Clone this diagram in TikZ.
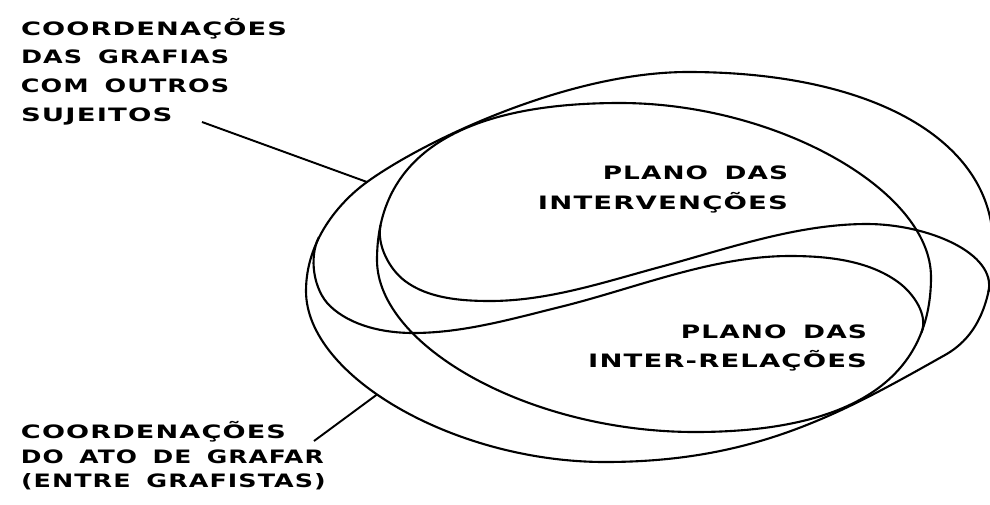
\documentclass[tikz,border=0pt]{standalone}
\usepackage{graphicx}
\usepackage{fontspec}
\newfontfamily\lblfont{DejaVu Sans}[FakeStretch=1.45, LetterSpace=6, WordSpace=1.6]
% set a line of caption text to a given width, keeping its height
\newcommand{\fitline}[2]{\resizebox{#1}{\height}{#2}}
\begin{document}
\begin{tikzpicture}[x=0.02cm, y=-0.02cm,
  outline/.style={draw=black, line width=1.2pt, line join=round},
  leader/.style={draw=black, line width=1.1pt},
  caption/.style={inner sep=0pt, outer sep=0pt, text=black,
    font=\lblfont\bfseries\fontsize{10.5}{12}\selectfont}]
\useasboundingbox (0,0) rectangle (990,504);

\begin{scope}
  \clip (0,0) rectangle (990,504);
  % outer ring
  \draw[outline] (306,291)
    .. controls (306,241) and (338.7,202.5) .. (367,182) coordinate (upTip)
    .. controls (423.7,141) and (568,72) .. (688,72)
    .. controls (874,72) and (993,141.2) .. (993,245)
    .. controls (993,305) and (975.5,337.9) .. (945,355)
    .. controls (840.6,413.8) and (755,462) .. (605,462)
    .. controls (455.5,462) and (306,376.5) .. coordinate[pos=0.57] (lowTip) (306,291)
    -- cycle;
  % inner ring
  \draw[outline] (377,260)
    .. controls (377,156.4) and (459.6,103) .. (620,103)
    .. controls (775.5,103) and (931,190) .. (931,277)
    .. controls (931,379.3) and (850.8,432) .. (695,432)
    .. controls (529.6,432) and (377,346) .. (377,260)
    -- cycle;
  % lower dividing curve: leaves the outer ring, joins the inner ring
  \draw[outline] (319,236.9)
    .. controls (308.6,257.4) and (313.4,290.1) .. (330,306)
    .. controls (350.9,326) and (384,333) .. (413,333)
    .. controls (463,333) and (511.5,319) .. (560,307)
    .. controls (635.7,288.3) and (712,256) .. (790,256)
    .. controls (827,256) and (868,260.2) .. (898,282)
    .. controls (913.4,293.2) and (928.4,314.8) .. (921.5,332.5);
  % upper dividing curve: leaves the inner ring, joins the outer ring
  \draw[outline] (380.6,224.9)
    .. controls (376.4,244.4) and (389,269) .. (405,281)
    .. controls (428.2,298.4) and (461,301) .. (490,301)
    .. controls (548,301) and (604,282.2) .. (660,267)
    .. controls (727.6,248.7) and (797,224) .. (867,224)
    .. controls (927,224) and (997.2,253) .. (988.4,292);
\end{scope}

% labels on the left
\node[caption, anchor=base west] (tl1) at (21,35) {\fitline{151.4pt}{COORDENAÇÕES}};
\node[caption, anchor=base west] (tl2) at (21,63.5) {\fitline{118.5pt}{DAS GRAFIAS}};
\node[caption, anchor=base west] (tl3) at (21,92) {\fitline{118.5pt}{COM OUTROS}};
\node[caption, anchor=base west] (tl4) at (21,121) {\fitline{86.2pt}{SUJEITOS}};

\node[caption, anchor=base west] (bl1) at (21,438) {\fitline{150.8pt}{COORDENAÇÕES}};
\node[caption, anchor=base west] (bl2) at (21,463) {\fitline{172.3pt}{DO ATO DE GRAFAR}};
\node[caption, anchor=base west] (bl3) at (21,487) {\fitline{173.5pt}{(ENTRE GRAFISTAS)}};

% labels inside
\node[caption, anchor=base east] (up1) at (788,179) {\fitline{105.4pt}{PLANO DAS}};
\node[caption, anchor=base east] (up2) at (788,209) {\fitline{142.3pt}{INTERVENÇÕES}};
\node[caption, anchor=base east] (lo1) at (867,338) {\fitline{106pt}{PLANO DAS}};
\node[caption, anchor=base east] (lo2) at (867,367) {\fitline{158.7pt}{INTER-RELAÇÕES}};

% leader lines
\coordinate (upFoot) at (202,122);
\coordinate (lowFoot) at (314,441);
\draw[leader] (upFoot) -- (upTip);
\draw[leader] (lowFoot) -- (lowTip);
\end{tikzpicture}
\end{document}
